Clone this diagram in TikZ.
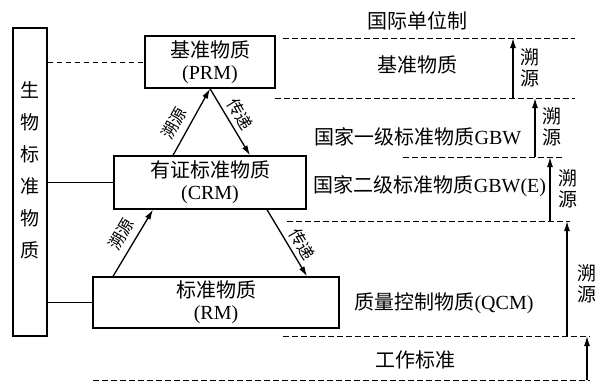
\documentclass[tikz,border=0pt]{standalone}
\usepackage{fontspec}
\setmainfont{Liberation Serif}
\newfontfamily\cjk{Noto Sans CJK SC}
\usetikzlibrary{arrows.meta,calc}
\newcommand\fs{\fontsize{20}{22}\selectfont}
\newcommand\fsv{\fontsize{19}{20.5}\selectfont}
\newcommand\fsd{\fontsize{16.5}{16.5}\selectfont}
\begin{document}
\begin{tikzpicture}[x=1pt,y=-1pt,
  box/.style={draw,line width=1.3pt,inner sep=0pt,align=center,font=\fs},
  lbl/.style={inner sep=0pt,align=center,font=\fs},
  vlbl/.style={inner sep=0pt,align=center,font=\cjk\fsv},
  dlbl/.style={inner sep=0pt,font=\cjk\fsd},
  dl/.style={dash pattern=on 5.5pt off 3.5pt,line width=1pt},
  sl/.style={line width=1.3pt},
  arr/.style={line width=1.3pt,-{Latex[length=10pt,width=6pt]}}]
\useasboundingbox (0,0) rectangle (602,381);
% left column
\node[box,minimum width=34pt,minimum height=308pt] (bio) at (30,182) {};
\node[inner sep=0pt,align=center,font=\cjk\fontsize{19}{32}\selectfont] (biot) at (30,170) {生\\物\\标\\准\\物\\质};
% boxes
\node[box,minimum width=130pt,minimum height=52pt] (PRM) at (210,62) {{\cjk 基准物质}\\(PRM)};
\node[box,minimum width=192pt,minimum height=53pt] (CRM) at (210,182.5) {{\cjk 有证标准物质}\\(CRM)};
\node[box,minimum width=246pt,minimum height=51pt] (RM) at (216,302.5) {{\cjk 标准物质}\\(RM)};
% links from left column
\draw[dl] (bio.east |- PRM.west) -- (PRM.west);
\draw[sl] (bio.east |- CRM.west) -- (CRM.west);
\draw[sl] (bio.east |- RM.west) -- (RM.west);
% triangle arrows
\draw[arr] ($(CRM.north)+(-37,0)$) -- (PRM.south);
\draw[arr] (PRM.south) -- ($(CRM.north)+(40,0)$);
\draw[arr] ($(RM.north)+(-103,0)$) -- ($(CRM.south)+(-57,0)$);
\draw[arr] ($(CRM.south)+(57,0)$) -- ($(RM.north)+(91,0)$);
\node[dlbl,rotate=61] (t1) at (174,123) {溯源};
\node[dlbl,rotate=-59] (c1) at (240,114) {传递};
\node[dlbl,rotate=60] (t2) at (121,234) {溯源};
\node[dlbl,rotate=-59] (c2) at (302,244) {传递};
% right side levels
\coordinate (l1a) at (283,38);  \coordinate (l1b) at (575,38);
\coordinate (l2a) at (275,98);  \coordinate (l2b) at (575,98);
\coordinate (l3a) at (403,157); \coordinate (l3b) at (563,157);
\coordinate (l4a) at (287,221); \coordinate (l4b) at (570,221);
\coordinate (l5a) at (283,336); \coordinate (l5b) at (590,336);
\coordinate (l6a) at (93,380);  \coordinate (l6b) at (590,380);
\draw[dl] (l1a) -- (l1b);
\draw[dl] (l2a) -- (l2b);
\draw[dl] (l3a) -- (l3b);
\draw[dl] (l4a) -- (l4b);
\draw[dl] (l5a) -- (l5b);
\draw[dl] (l6a) -- (l6b);
\node[lbl] (si) at (417,21) {\cjk 国际单位制};
\node[lbl] (pr) at (417,65) {\cjk 基准物质};
\node[lbl] (g1) at (418,137) {{\cjk 国家一级标准物质}GBW};
\node[lbl] (g2) at (430,186) {{\cjk 国家二级标准物质}GBW(E)};
\node[lbl] (qc) at (444,303) {{\cjk 质量控制物质}(QCM)};
\node[lbl] (ws) at (415,360) {\cjk 工作标准};
% traceability arrows
\draw[arr] (513,98 |- l2a) -- (513,38 |- l1a);
\draw[arr] (535,157 |- l3a) -- (535,98 |- l2a);
\draw[arr] (550,221 |- l4a) -- (550,157 |- l3a);
\draw[arr] (567,336 |- l5a) -- (567,221 |- l4a);
\draw[arr] (587,380 |- l6a) -- (587,336 |- l5a);
\node[vlbl] (v1) at (530,68) {溯\\源};
\node[vlbl] (v2) at (552,127) {溯\\源};
\node[vlbl] (v3) at (568,189) {溯\\源};
\node[vlbl] (v4) at (587,284) {溯\\源};
\end{tikzpicture}
\end{document}
